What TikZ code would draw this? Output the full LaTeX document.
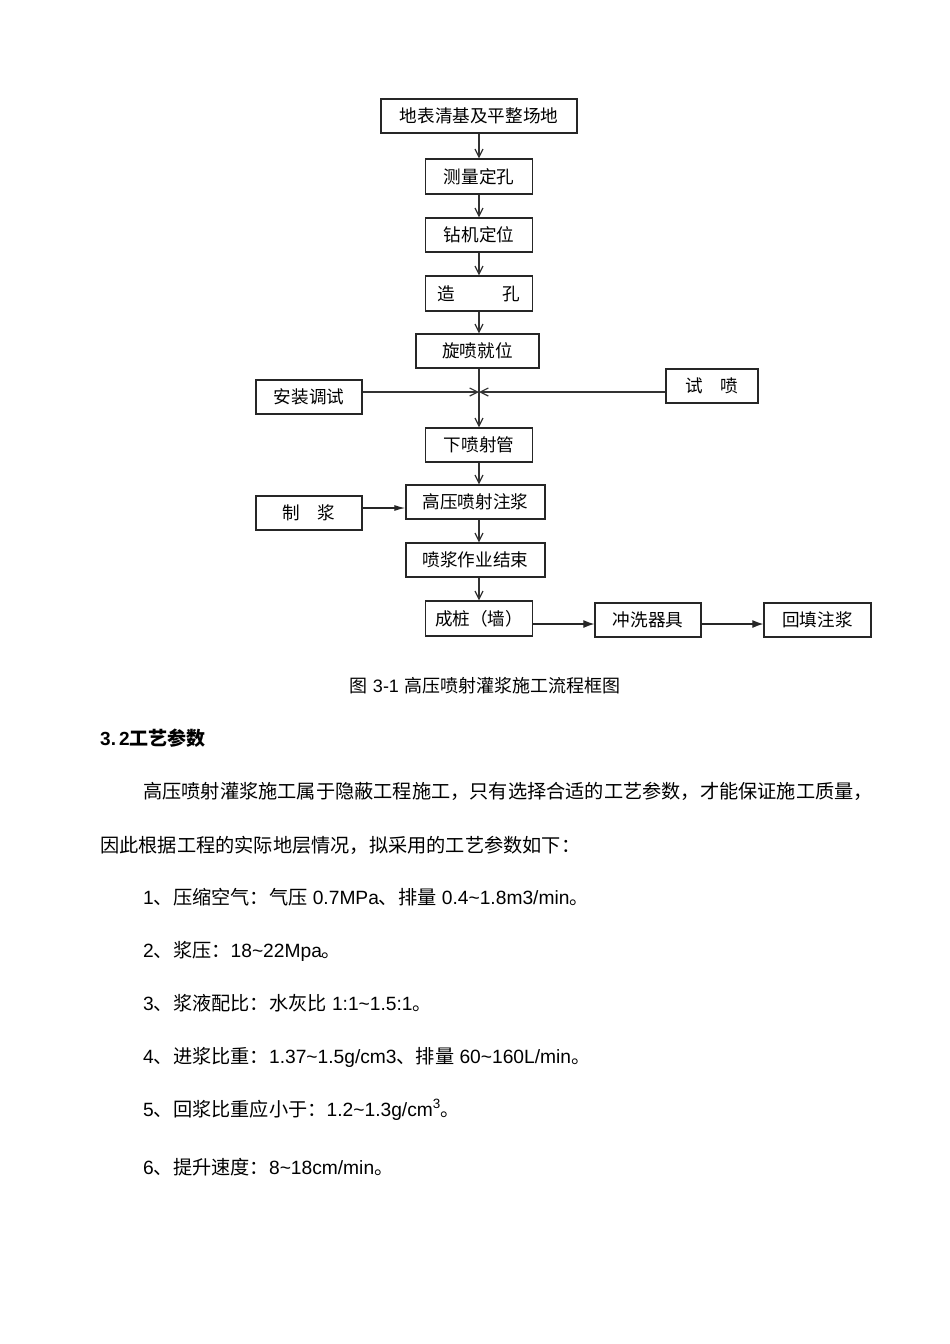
\documentclass[tikz,border=0pt]{standalone}
\usepackage{fontspec}
\setmainfont{Liberation Sans}
\newfontfamily\cjk{Noto Sans CJK SC}
\usetikzlibrary{arrows.meta}
\newcommand{\tl}{\textasciitilde}
\begin{document}
\begin{tikzpicture}[x=1pt,y=1pt,
  box/.style={draw=black!85, line width=1.3pt, inner sep=0pt, minimum height=34pt,
    font=\cjk\fontsize{17.6}{20}\selectfont},
  varr/.style={draw=black!80, line width=1.2pt, -{Straight Barb[length=8pt,width=8pt]}},
  harr/.style={draw=black!85, line width=1.2pt, -{Latex[length=11pt,width=8pt]}},
  txt/.style={anchor=base west, inner sep=0pt, font=\fontsize{19.2}{22}\selectfont}]
\useasboundingbox (0,0) rectangle (950,-1344);
\fill[white] (0,0) rectangle (950,-1344);
% boxes
\node[box, minimum width=196pt] (n1) at (479,-116) {地表清基及平整场地};
\node[box, minimum width=107pt, minimum height=35pt] (n2) at (479,-176.5) {测量定孔};
\node[box, minimum width=107pt] (n3) at (479,-235) {钻机定位};
\node[box, minimum width=107pt, minimum height=35pt] (n4) at (479,-293.5) {造\hspace{2.7em}孔};
\node[box, minimum width=123pt] (n5) at (477.5,-351) {旋喷就位};
\node[box, minimum width=106pt] (az) at (309,-397) {安装调试};
\node[box, minimum width=92pt] (sp) at (712,-386) {试\hspace{1em}喷};
\node[box, minimum width=107pt] (xp) at (479,-445) {下喷射管};
\node[box, minimum width=106pt] (zj) at (309,-513) {制\hspace{1em}浆};
\node[box, minimum width=139pt] (gy) at (475.5,-502) {高压喷射注浆};
\node[box, minimum width=139pt] (pj) at (475.5,-560) {喷浆作业结束};
\node[box, minimum width=107pt, minimum height=35pt] (cz) at (479,-618.5) {成桩（墙）};
\node[box, minimum width=106pt] (cx) at (648,-620) {冲洗器具};
\node[box, minimum width=107pt] (ht) at (817.5,-620) {回填注浆};
\coordinate (c) at (479,-392);
% connectors
\draw[varr] (n1.south) -- (n2.north);
\draw[varr] (n2.south) -- (n3.north);
\draw[varr] (n3.south) -- (n4.north);
\draw[varr] (n4.south) -- (n4.south |- n5.north);
\draw[varr] (n5.south -| xp.north) -- (xp.north);
\draw[varr] (az.east |- c) -- (c);
\draw[varr] (sp.west |- c) -- (c);
\draw[varr] (xp.south) -- (xp.south |- gy.north);
\draw[varr] (gy.south -| xp.south) -- (pj.north -| xp.south);
\draw[varr] (pj.south -| cz.north) -- (cz.north);
\draw[draw=black!85, line width=1.2pt, -{Latex[length=11pt,width=6pt]}] ([yshift=5pt]zj.east) -- ([yshift=-6pt]gy.west);
\draw[harr] ([yshift=-5.5pt]cz.east) -- ([yshift=-4pt]cx.west);
\draw[harr] ([yshift=-4pt]cx.east) -- ([yshift=-4pt]ht.west);
% caption and text
\node[anchor=base, inner sep=0pt, font=\fontsize{18}{20}\selectfont] (cap) at (485,-692)
  {{\cjk 图} 3-1 {\cjk 高压喷射灌浆施工流程框图}};
\node[txt, font=\fontsize{19}{22}\selectfont\bfseries] (h) at (100,-745) {3.\,2{\cjk\bfseries 工艺参数}};
\node[txt] (p1) at (143,-798) {\cjk 高压喷射灌浆施工属于隐蔽工程施工，只有选择合适的工艺参数，才能保证施工质量，};
\node[txt] (p2) at (100,-852) {\cjk 因此根据工程的实际地层情况，拟采用的工艺参数如下：};
\node[txt] (i1) at (143,-904) {1{\cjk 、压缩空气：气压} 0.7MPa{\cjk 、排量} 0.4\tl1.8m3/min{\cjk 。}};
\node[txt] (i2) at (143,-957) {2{\cjk 、浆压：}18\tl22Mpa{\cjk 。}};
\node[txt] (i3) at (143,-1010) {3{\cjk 、浆液配比：水灰比} 1:1\tl1.5:1{\cjk 。}};
\node[txt] (i4) at (143,-1063) {4{\cjk 、进浆比重：}1.37\tl1.5g/cm3{\cjk 、排量} 60\tl160L/min{\cjk 。}};
\node[txt] (i5) at (143,-1116) {5{\cjk 、回浆比重应小于：}1.2\tl1.3g/cm\textsuperscript{3}{\cjk 。}};
\node[txt] (i6) at (143,-1174) {6{\cjk 、提升速度：}8\tl18cm/min{\cjk 。}};
\end{tikzpicture}
\end{document}
